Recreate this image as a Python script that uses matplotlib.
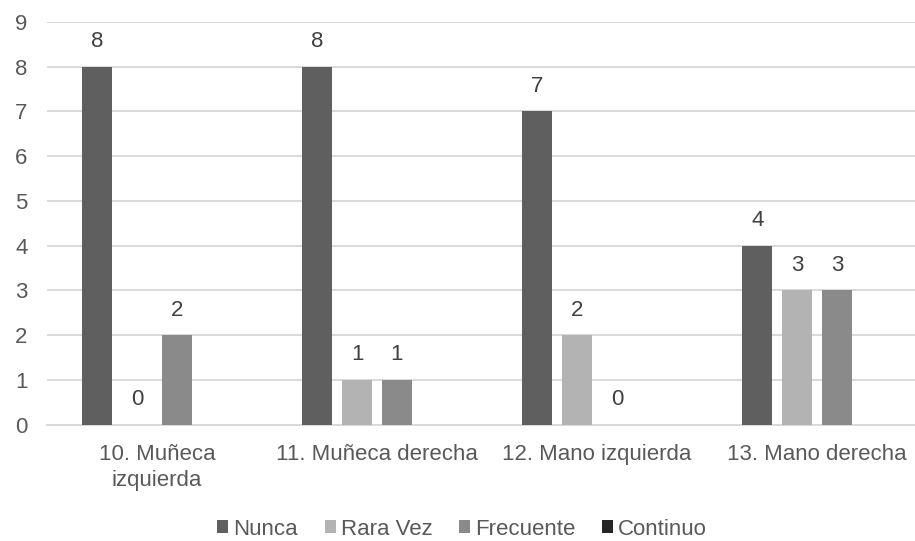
import numpy as np
import matplotlib.pyplot as plt

plt.rcParams['font.family'] = ['Liberation Sans', 'DejaVu Sans']

categorias = ['10. Muñeca\nizquierda', '11. Muñeca derecha', '12. Mano izquierda', '13. Mano derecha']
series = ['Nunca', 'Rara Vez', 'Frecuente', 'Continuo']
nunca = [8, 8, 7, 4]
rara_vez = [0, 1, 2, 3]
frecuente = [2, 1, 0, 3]
continuo = [np.nan, np.nan, np.nan, np.nan]
colores = ['#5f5f5f', '#b3b3b3', '#8a8a8a', '#262626']

valores = [nunca, rara_vez, frecuente, continuo]
texto = '#595959'

fig = plt.figure(figsize=(9.15, 5.41), dpi=100)
ax = fig.add_axes([0.0514, 0.2153, 0.9617, 0.744])

x = np.arange(len(categorias))
paso = 0.181
ancho = 0.138
for k, (nombre, vals, color) in enumerate(zip(series, valores, colores)):
    pos = x + (k - 1.5) * paso
    ax.bar(pos, vals, width=ancho, color=color, label=nombre, zorder=3)
    for p, v in zip(pos, vals):
        if not np.isnan(v):
            ax.text(p, v + 0.32, f'{v:g}', ha='center', va='bottom',
                    fontsize=16, color='#404040')

ax.set_xlim(-0.5, 3.5)
ax.set_ylim(0, 9)
ax.set_yticks(range(10))
ax.set_xticks(x)
ax.set_xticklabels(categorias, fontsize=16, color=texto, linespacing=1.3, va='top')
ax.tick_params(axis='y', labelsize=16, labelcolor=texto, length=0, pad=14)
ax.tick_params(axis='x', length=0, pad=14)
ax.grid(axis='y', color='#d9d9d9', linewidth=1.4, zorder=0)
for lado in ['top', 'right', 'left']:
    ax.spines[lado].set_visible(False)
ax.spines['bottom'].set_color('#d9d9d9')
ax.spines['bottom'].set_linewidth(1.4)

fig.legend(loc='center', bbox_to_anchor=(0.505, 0.022), ncol=4, frameon=False,
           fontsize=16, labelcolor=texto, handlelength=0.5, handleheight=0.5,
           handletextpad=0.22, columnspacing=1.2, borderpad=0)

plt.savefig('out.png', dpi=100)
